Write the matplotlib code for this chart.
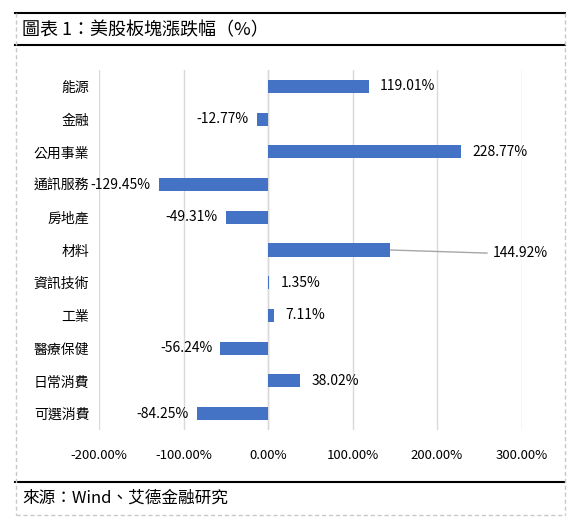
import matplotlib
matplotlib.use("Agg")
import matplotlib.pyplot as plt
from matplotlib.lines import Line2D

plt.rcParams['font.family'] = ['Noto Sans CJK TC', 'DejaVu Sans']

# data, top to bottom as shown
sectors = ['能源', '金融', '公用事業', '通訊服務', '房地產', '材料',
           '資訊技術', '工業', '醫療保健', '日常消費', '可選消費']
changes = [119.01, -12.77, 228.77, -129.45, -49.31, 144.92,
           1.35, 7.11, -56.24, 38.02, -84.25]
xticks = [-200, -100, 0, 100, 200, 300]

W, H = 580, 528
fig = plt.figure(figsize=(W / 100, H / 100), dpi=100)

def fx(px):
    return px / W

def fy(py):
    return 1 - py / H

# plot area
ax = fig.add_axes([fx(99), fy(430), fx(521.5) - fx(99), fy(70) - fy(430)])
ypos = list(range(len(sectors)))
ax.barh(ypos, changes, height=0.4, color='#4472C4', zorder=3)
ax.set_ylim(len(sectors) - 0.5, -0.5)
ax.set_xlim(-200, 300)
ax.set_xticks(xticks)
ax.set_xticklabels(['%.2f%%' % t for t in xticks], fontsize=9.5)
ax.set_yticks(ypos)
ax.set_yticklabels(sectors, fontsize=10)
ax.tick_params(length=0)
ax.tick_params(axis='x', pad=14)
ax.tick_params(axis='y', pad=7)
ax.grid(axis='x', color='#d9d9d9', linewidth=1, zorder=0)
for s in ax.spines.values():
    s.set_visible(False)
ax.axvline(0, color='#d9d9d9', linewidth=1, zorder=1)

# value labels
for i, v in enumerate(changes):
    txt = '%.2f%%' % v
    if sectors[i] == '材料':
        # label moved out with a leader line
        ax.annotate(txt, xy=(v, i), xytext=(266, i + 0.1),
                    fontsize=10, va='center', ha='left',
                    arrowprops=dict(arrowstyle='-', color='#a6a6a6', lw=1,
                                    relpos=(0, 0.5), shrinkA=2, shrinkB=0))
    elif v >= 0:
        ax.annotate(txt, xy=(v, i), xytext=(8, 0), textcoords='offset points',
                    fontsize=10, va='center', ha='left')
    else:
        ax.annotate(txt, xy=(v, i), xytext=(-6, 0), textcoords='offset points',
                    fontsize=10, va='center', ha='right')

# frame
fig.add_artist(Line2D([fx(15), fx(565)], [fy(12.5), fy(12.5)], color='black', lw=1.5))
fig.add_artist(Line2D([fx(15), fx(565)], [fy(45), fy(45)], color='black', lw=1.5))
fig.add_artist(Line2D([fx(15), fx(565)], [fy(482), fy(482)], color='black', lw=1.5))
dash = dict(color='#c8c8c8', lw=1, linestyle=(0, (3, 2)))
fig.add_artist(Line2D([fx(15.5), fx(15.5)], [fy(12.5), fy(515)], **dash))
fig.add_artist(Line2D([fx(564.5), fx(564.5)], [fy(12.5), fy(515)], **dash))
fig.add_artist(Line2D([fx(15.5), fx(564.5)], [fy(515), fy(515)], **dash))

fig.text(fx(22), fy(30), '圖表 1：美股板塊漲跌幅（%）', fontsize=13, va='center', ha='left')
fig.text(fx(22), fy(498), '來源：Wind、艾德金融研究', fontsize=12, va='center', ha='left')

fig.savefig('out.png', dpi=100)
